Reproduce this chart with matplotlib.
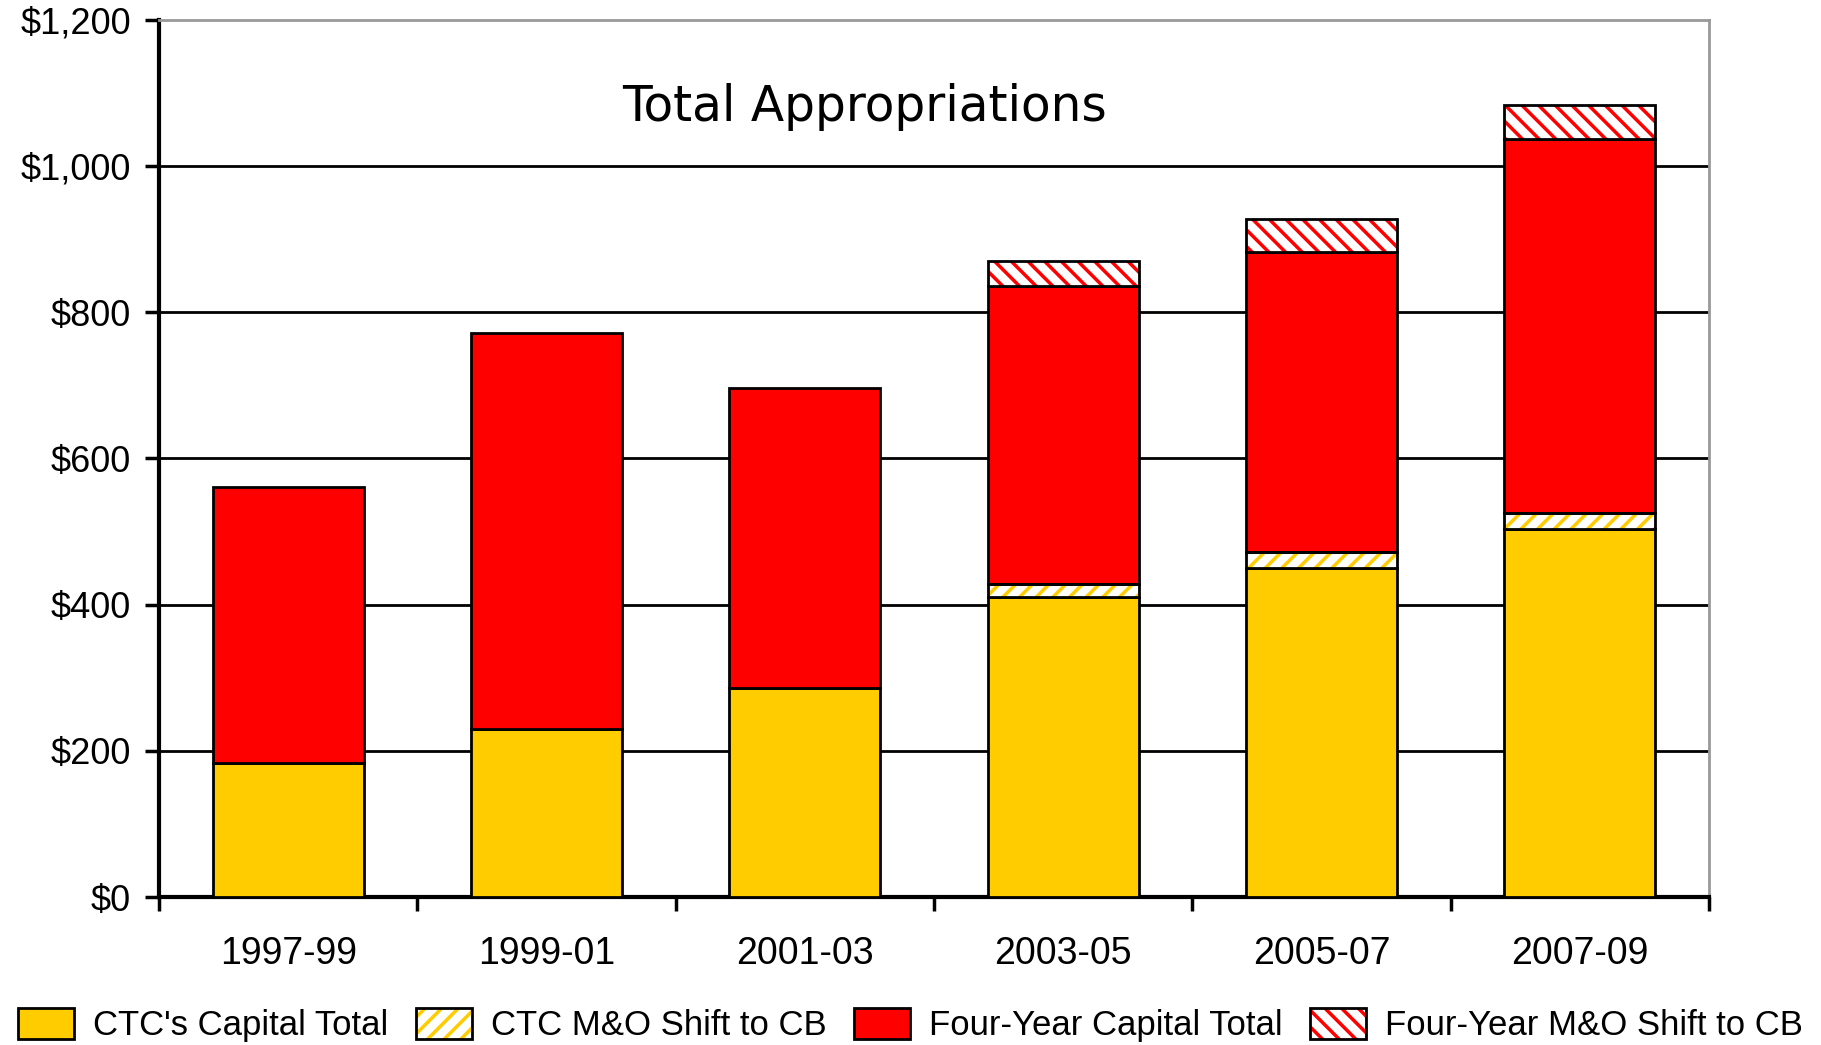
import matplotlib
matplotlib.use("Agg")
import matplotlib.pyplot as plt
from matplotlib.patches import Patch
import numpy as np

periods = ["1997-99", "1999-01", "2001-03", "2003-05", "2005-07", "2007-09"]
ctc_capital = [184, 230, 286, 410, 450, 503]
ctc_mo_shift = [0, 0, 0, 18, 22, 23]
four_year_capital = [377, 541, 410, 408, 410, 511]
four_year_mo_shift = [0, 0, 0, 34, 45, 46]

yticks = [0, 200, 400, 600, 800, 1000, 1200]
ytick_labels = ["$0", "$200", "$400", "$600", "$800", "$1,000", "$1,200"]

YELLOW = "#FFCC00"
RED = "#FF0000"

plt.rcParams["font.family"] = ["Liberation Sans", "DejaVu Sans"]
plt.rcParams["hatch.linewidth"] = 2.5

fig = plt.figure(figsize=(18.21, 10.45), dpi=100)
ax = fig.add_axes([0.0873, 0.1416, 0.8512, 0.8394])

x = np.arange(len(periods))
w = 0.585

# horizontal gridlines sit behind the bars
for y in yticks[1:-1]:
    ax.axhline(y, color="black", lw=2.0, zorder=1)

bottom = np.zeros(len(periods))


def solid(vals, color):
    global bottom
    v = np.array(vals, dtype=float)
    ax.bar(x, v, w, bottom=bottom, color=color, edgecolor="black", lw=2, zorder=3)
    bottom = bottom + v


def hatched(vals, color, hatch):
    # coloured hatch on white, then a black outline on top
    global bottom
    v = np.array(vals, dtype=float)
    m = v > 0
    ax.bar(x[m], v[m], w, bottom=bottom[m], color="white", edgecolor=color,
           hatch=hatch, lw=0, zorder=3)
    ax.bar(x[m], v[m], w, bottom=bottom[m], color="none", edgecolor="black",
           lw=2, zorder=4)
    bottom = bottom + v


solid(ctc_capital, YELLOW)
hatched(ctc_mo_shift, YELLOW, "//")
solid(four_year_capital, RED)
hatched(four_year_mo_shift, RED, "\\\\")

ax.set_xlim(-0.5, 5.5)
ax.set_ylim(0, 1200)
ax.set_yticks(yticks)
ax.set_yticklabels(ytick_labels, fontsize=26)
ax.set_xticks(x)
ax.set_xticklabels(periods, fontsize=27)
ax.set_xticks(np.arange(-0.5, 6.0, 1.0), minor=True)
ax.tick_params(axis="x", which="major", length=0, pad=28)
ax.tick_params(axis="x", which="minor", length=10, width=2.5, direction="out")
ax.tick_params(axis="y", length=10, width=2.5, direction="out", pad=10)

for side in ["left", "bottom"]:
    ax.spines[side].set_linewidth(3)
    ax.spines[side].set_color("black")
for side in ["top", "right"]:
    ax.spines[side].set_linewidth(2)
    ax.spines[side].set_color("#999999")

ax.text(0.455, 0.901, "Total Appropriations", transform=ax.transAxes,
        ha="center", va="center", fontsize=35, family="DejaVu Sans")

h1 = Patch(facecolor=YELLOW, edgecolor="black", lw=2)
h2 = (Patch(facecolor="white", edgecolor=YELLOW, hatch="//", lw=0),
      Patch(facecolor="none", edgecolor="black", lw=2))
h3 = Patch(facecolor=RED, edgecolor="black", lw=2)
h4 = (Patch(facecolor="white", edgecolor=RED, hatch="\\\\", lw=0),
      Patch(facecolor="none", edgecolor="black", lw=2))
fig.legend([h1, h2, h3, h4],
           ["CTC's Capital Total", "CTC M&O Shift to CB",
            "Four-Year Capital Total", "Four-Year M&O Shift to CB"],
           loc="center", bbox_to_anchor=(0.5, 0.019), ncol=4, frameon=False,
           fontsize=25, handlelength=1.6, handleheight=1.0,
           handletextpad=0.55, columnspacing=0.8)

fig.savefig("out.png", dpi=100)
